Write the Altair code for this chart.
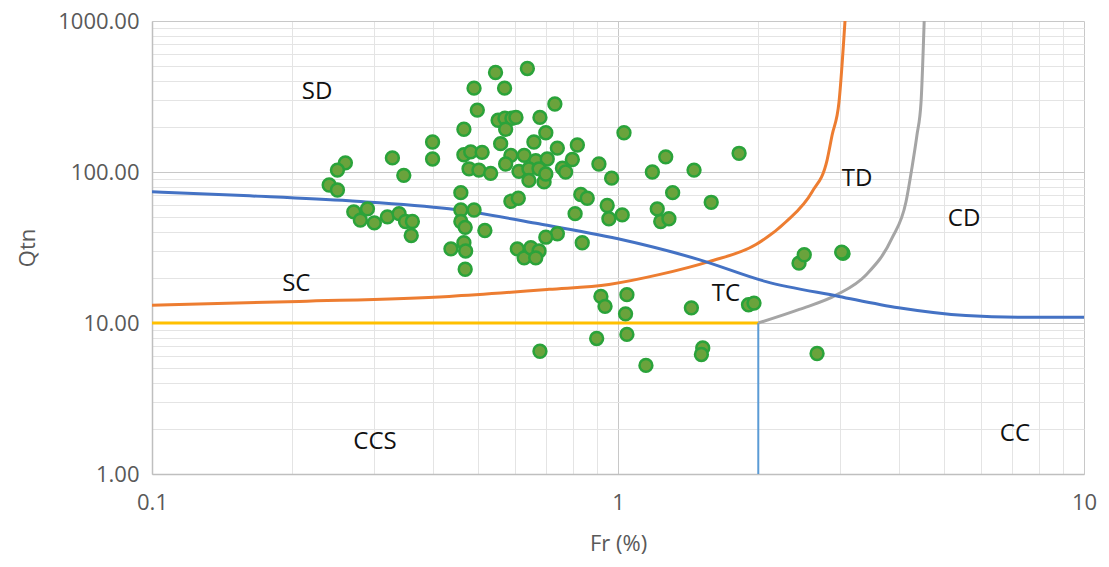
import altair as alt
import pandas as pd

# ---- scatter data (Fr %, Qtn) ----
fr = [0.546, 0.639, 0.491, 0.571, 0.732, 0.499, 0.553, 0.572, 0.592, 0.604,
      0.680, 0.574, 0.467, 1.03, 0.70, 0.40, 0.40, 0.56, 0.66, 0.818,
      0.741, 0.328, 0.467, 0.483, 0.511, 0.589, 0.629, 0.666, 0.705, 0.798,
      0.91, 1.266, 1.456, 1.185, 0.969, 0.76, 0.772, 0.574, 0.613, 0.644,
      0.677, 0.479, 0.503, 0.533, 0.644, 0.694, 0.70, 0.347, 0.260, 0.250,
      0.240, 0.250, 0.46, 0.832, 0.859, 0.589, 0.611, 1.31, 0.948, 0.956,
      1.021, 1.214, 1.235, 1.286, 1.585, 1.819, 0.809, 0.46, 0.491, 0.46,
      0.47, 0.271, 0.28, 0.29, 0.30, 0.32, 0.339, 0.35, 0.362, 0.36,
      0.518, 0.741, 0.70, 0.838, 0.438, 0.467, 0.471, 0.608, 0.629, 0.65,
      0.677, 0.666, 0.47, 0.919, 0.938, 1.045, 1.038, 1.045, 0.90, 0.68,
      1.148, 1.437, 1.52, 1.51, 1.906, 1.958, 2.674, 2.446, 2.51, 3.04, 3.02]
qtn = [456, 485, 359, 359, 282, 257, 220, 227, 227, 230,
       230, 192, 192, 182, 182, 158, 122, 154, 158, 151,
       144, 124, 130, 136, 135, 129, 129, 119, 122, 121,
       113, 126, 103, 100, 91, 106, 100, 113, 101, 105,
       105, 105, 103, 98, 88, 86, 97, 95, 115, 103,
       82, 76, 73, 71, 67, 64, 67, 73, 60, 49,
       52, 57, 47, 49, 63, 133, 53, 56, 56, 47,
       43, 54.5, 48, 57, 46, 50.5, 53, 47, 47, 38,
       41, 39, 37, 34, 31, 34, 30, 31, 27, 31.5,
       30, 27, 22.7, 15, 12.9, 15.4, 11.5, 8.4, 7.9, 6.5,
       5.24, 12.6, 6.84, 6.19, 13.2, 13.55, 6.28, 24.9, 28.3, 28.9, 29.5]

# ---- boundary curves ----
blue_fr = [0.1, 0.162, 0.265, 0.434, 0.677, 1.0, 1.492, 2.078, 2.98, 4.0, 5.58, 7.62, 10.0]
blue_q = [74, 69.5, 64.4, 57, 45.4, 36.1, 26.3, 18.8, 15, 12.6, 11.2, 10.9, 10.9]

orange_fr = [0.1, 0.207, 0.434, 0.711, 0.956, 1.224, 1.567, 1.977, 2.294, 2.61, 2.81, 2.88, 2.98, 3.07]
orange_q = [13.1, 13.9, 15, 16.7, 18, 20.9, 25.5, 33.1, 46.8, 74, 120, 175, 290, 1000]

gray_fr = [2.0, 2.45, 2.95, 3.41, 3.87, 4.15, 4.27, 4.38, 4.47, 4.54]
gray_q = [10, 12.3, 15.4, 20.9, 36.3, 63.5, 105, 175, 290, 1000]

yellow_fr = [0.1, 2.0]
yellow_q = [10, 10]

vline_fr = [2.0, 2.0]
vline_q = [1, 10]

# ---- zone labels ----
lab_text = ["SD", "SC", "TD", "CD", "TC", "CCS", "CC"]
lab_fr = [0.226, 0.204, 3.26, 5.53, 1.705, 0.301, 7.11]
lab_q = [337, 18, 90, 49, 15.5, 1.63, 1.85]

# ---- axis tick values ----
x_vals = [m * d for d in [0.1, 1] for m in range(1, 10)] + [10]
y_vals = [m * d for d in [1, 10, 100] for m in range(1, 10)] + [1000]

is_major = "abs(log(datum.value)/LN10 - round(log(datum.value)/LN10)) < 1e-6"
FONT = "Open Sans"

x_axis = alt.Axis(values=x_vals, format="~g", title="Fr (%)",
                  labelExpr=f"{is_major} ? datum.label : ''",
                  gridColor={"condition": {"test": is_major, "value": "#c8c8c8"}, "value": "#e4e4e4"},
                  ticks=False, tickSize=0, labelPadding=18, labelFlush=False, labelOverlap=False,
                  labelFont=FONT, labelFontSize=22, labelColor="#595959",
                  titleFont=FONT, titleFontSize=22, titleColor="#595959", titleFontWeight="normal",
                  titlePadding=20, domainColor="#bfbfbf", domainWidth=1.5)
y_axis = alt.Axis(values=y_vals, format=".2f", title="Qtn",
                  labelExpr=f"{is_major} ? datum.label : ''",
                  gridColor={"condition": {"test": is_major, "value": "#c8c8c8"}, "value": "#e4e4e4"},
                  ticks=False, tickSize=0, labelPadding=13, labelOverlap=False,
                  labelFont=FONT, labelFontSize=22, labelColor="#595959",
                  titleFont=FONT, titleFontSize=22, titleColor="#595959", titleFontWeight="normal",
                  titlePadding=18, domainColor="#bfbfbf", domainWidth=1.5)

xs = alt.Scale(type="log", domain=[0.1, 10], nice=False)
ys = alt.Scale(type="log", domain=[1, 1000], nice=False)


def X():
    return alt.X("fr:Q", scale=xs, axis=x_axis)


def Y():
    return alt.Y("qtn:Q", scale=ys, axis=y_axis)


def curve(frs, qs, color, width, interp="linear"):
    df = pd.DataFrame({"fr": frs, "qtn": qs, "i": list(range(len(frs)))})
    return alt.Chart(df).mark_line(color=color, strokeWidth=width, clip=True,
                                   interpolate=interp).encode(
        x=X(), y=Y(), order="i:Q")


pts = pd.DataFrame({"fr": fr, "qtn": qtn})
points = alt.Chart(pts).mark_point(
    shape="circle", filled=True, size=165, fill="#6aa33c", stroke="#2aa33a",
    strokeWidth=2.5, opacity=1, fillOpacity=1).encode(x=X(), y=Y())

labs = pd.DataFrame({"fr": lab_fr, "qtn": lab_q, "t": lab_text})
labels = alt.Chart(labs).mark_text(font=FONT, fontSize=24, color="#111111").encode(
    x=X(), y=Y(), text="t:N")

chart = alt.layer(
    curve(yellow_fr, yellow_q, "#ffc000", 3),
    curve(vline_fr, vline_q, "#5b9bd5", 2),
    curve(gray_fr, gray_q, "#a5a5a5", 3, "monotone"),
    curve(orange_fr, orange_q, "#ed7d31", 3, "monotone"),
    curve(blue_fr, blue_q, "#4472c4", 3, "monotone"),
    points,
    labels,
).properties(
    width=932, height=453,
    autosize=alt.AutoSizeParams(type="none"),
    padding={"left": 144, "top": 13, "right": 17, "bottom": 84},
).configure_view(stroke=None)

chart.save("out.html", embed_options={"renderer": "svg", "actions": False})
